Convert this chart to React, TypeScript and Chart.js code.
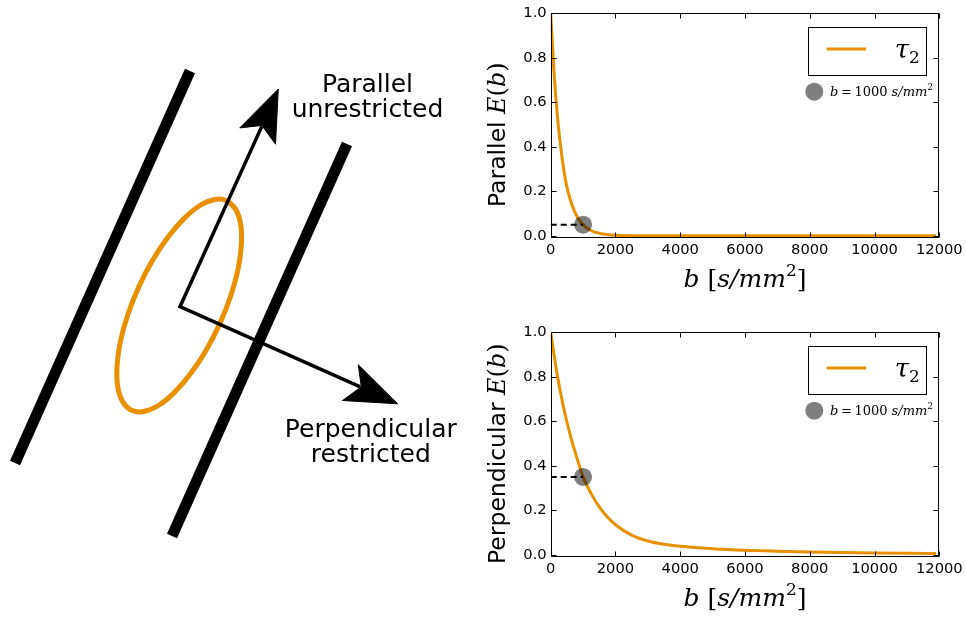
import React, { useEffect, useRef } from 'react';
import { Chart, registerables } from 'chart.js';

Chart.register(...registerables);

// ---------- data: E(b) curves ----------
const xTicks = [0, 2000, 4000, 6000, 8000, 10000, 12000];
const yTicks = [0, 0.2, 0.4, 0.6, 0.8, 1.0];

const bParallel = [0, 100, 200, 300, 400, 500, 600, 700, 800, 900, 1000, 1200, 1400, 1600, 1800, 2000, 2500, 3000, 4000, 6000, 8000, 10000, 11900];
const eParallel = [1.0, 0.74, 0.55, 0.41, 0.3, 0.22, 0.165, 0.122, 0.09, 0.067, 0.05, 0.027, 0.015, 0.008, 0.0045, 0.0025, 0.0006, 0.0001, 0, 0, 0, 0, 0];

const bPerp = [0, 200, 400, 600, 800, 1000, 1250, 1500, 1750, 2000, 2500, 3000, 3500, 4000, 5000, 6000, 7000, 8000, 9000, 10000, 11000, 11900];
const ePerp = [1.0, 0.81, 0.66, 0.54, 0.44, 0.35, 0.275, 0.215, 0.17, 0.135, 0.088, 0.062, 0.047, 0.038, 0.027, 0.02, 0.016, 0.013, 0.0105, 0.0085, 0.007, 0.006];

const markerB = 1000;
const markerParallel = 0.05;
const markerPerp = 0.35;

// ---------- data: diagram (pixel-like coordinates of the sketch) ----------
const wallLeft = [[190, 71], [15, 463]];
const wallRight = [[347, 144], [172, 536]];
const ellipse = [
  [226.7, 200.7], [235.6, 209.1], [240.6, 223.9], [241.4, 244.4], [238.1, 269.0], [230.6, 296.2],
  [219.7, 323.9], [206.0, 350.4], [190.5, 373.8], [174.2, 392.6], [158.4, 405.5], [143.8, 411.5],
  [131.7, 410.3], [122.8, 401.9], [117.8, 387.1], [117.0, 366.6], [120.3, 342.0], [127.8, 314.8],
  [138.7, 287.1], [152.4, 260.6], [167.9, 237.2], [184.2, 218.4], [200.0, 205.5], [214.6, 199.5],
  [226.7, 200.7], [235.6, 209.1],
];
const arrowShaft = [[261.8, 126.4], [180, 306.7], [360.3, 386.8]];
const arrowHeadParallel = [[278.3, 89], [239.8, 127.9], [261.8, 125.4], [275.5, 144.2], [278.3, 89]];
const arrowHeadPerp = [[397.7, 403.8], [358.3, 364.8], [361.3, 386.8], [342.5, 400.5], [397.7, 403.8]];
const diagramTexts = ['Parallel', 'unrestricted', 'Perpendicular', 'restricted'];
const diagramTextAnchors = [[367.5, 91.7], [367.5, 116.7], [370.8, 436.7], [370.8, 461.7]];

// ---------- styles ----------
const ORANGE = 'rgb(232,144,0)';
const MARKER = 'rgba(0,0,0,0.5)';
const SANS = '"DejaVu Sans", sans-serif';
const SERIF = '"DejaVu Serif", serif';

type Seg = { t: string; f: string; dy?: number };

function drawRich(ctx: CanvasRenderingContext2D, segs: Seg[], x: number, y: number, align: 'left' | 'center') {
  let w = 0;
  for (const s of segs) {
    ctx.font = s.f;
    w += ctx.measureText(s.t).width;
  }
  let cx = align === 'center' ? x - w / 2 : x;
  ctx.textAlign = 'left';
  ctx.textBaseline = 'alphabetic';
  ctx.fillStyle = '#000';
  for (const s of segs) {
    ctx.font = s.f;
    ctx.fillText(s.t, cx, y + (s.dy || 0));
    cx += ctx.measureText(s.t).width;
  }
}

const xTitle: Seg[] = [
  { t: 'b', f: `italic 25px ${SERIF}` },
  { t: ' [', f: `25px ${SERIF}` },
  { t: 's/mm', f: `italic 25px ${SERIF}` },
  { t: '2', f: `17px ${SERIF}`, dy: -11 },
  { t: ']', f: `25px ${SERIF}` },
];
const yTitle = (word: string): Seg[] => [
  { t: word + ' ', f: `23.5px ${SANS}` },
  { t: 'E', f: `italic 24px ${SERIF}` },
  { t: '(', f: `24px ${SERIF}` },
  { t: 'b', f: `italic 24px ${SERIF}` },
  { t: ')', f: `24px ${SERIF}` },
];
const tauLabel: Seg[] = [
  { t: 'τ', f: `italic 26px ${SERIF}` },
  { t: '2', f: `17px ${SERIF}`, dy: 5 },
];
const markerLabel: Seg[] = [
  { t: 'b', f: `italic 13px ${SERIF}` },
  { t: '\u2009=\u20091000 ', f: `13px ${SERIF}` },
  { t: 's/mm', f: `italic 13px ${SERIF}` },
  { t: '2', f: `9px ${SERIF}`, dy: -6 },
];

function plotConfig(b: number[], e: number[], markerY: number, word: string, padTop: number, xAxisH: number): any {
  const decor = {
    id: 'decor',
    afterDatasetsDraw(chart: any) {
      const ctx: CanvasRenderingContext2D = chart.ctx;
      const ca = chart.chartArea;
      const xs = chart.scales.x;
      const ys = chart.scales.y;
      ctx.save();
      // frame
      ctx.strokeStyle = '#000';
      ctx.lineWidth = 1;
      const L = Math.round(ca.left) + 0.5, R = Math.round(ca.right) - 0.5;
      const T = Math.round(ca.top) + 0.5, B = Math.round(ca.bottom) - 0.5;
      ctx.strokeRect(L, T, R - L, B - T);
      // inward ticks on all sides
      ctx.beginPath();
      for (const v of xTicks) {
        const px = Math.round(xs.getPixelForValue(v)) + 0.5;
        ctx.moveTo(px, B); ctx.lineTo(px, B - 5);
        ctx.moveTo(px, T); ctx.lineTo(px, T + 5);
      }
      for (const v of yTicks) {
        const py = Math.round(ys.getPixelForValue(v)) + 0.5;
        ctx.moveTo(L, py); ctx.lineTo(L + 5, py);
        ctx.moveTo(R, py); ctx.lineTo(R - 5, py);
      }
      ctx.stroke();
      // legend
      const bx = ca.right - 131.6, by = ca.top + 13.2, bw = 118, bh = 47.5;
      ctx.fillStyle = '#fff';
      ctx.fillRect(bx, by, bw, bh);
      ctx.strokeStyle = '#000';
      ctx.lineWidth = 1;
      ctx.strokeRect(Math.round(bx) + 0.5, Math.round(by) + 0.5, Math.round(bw), Math.round(bh));
      ctx.strokeStyle = ORANGE;
      ctx.lineWidth = 3;
      ctx.beginPath();
      ctx.moveTo(bx + 19, by + 22.5);
      ctx.lineTo(bx + 58.3, by + 22.5);
      ctx.stroke();
      drawRich(ctx, tauLabel, bx + 87, by + 31, 'left');
      ctx.fillStyle = MARKER;
      ctx.beginPath();
      ctx.arc(bx + 6.6, by + bh + 17.7, 9, 0, Math.PI * 2);
      ctx.fill();
      drawRich(ctx, markerLabel, bx + 22.3, by + bh + 22.2, 'left');
      // axis titles
      drawRich(ctx, xTitle, (ca.left + ca.right) / 2, ca.bottom + 49, 'center');
      ctx.translate(ca.left - 46, (ca.top + ca.bottom) / 2 + 9);
      ctx.rotate(-Math.PI / 2);
      drawRich(ctx, yTitle(word), 0, 0, 'center');
      ctx.restore();
    },
  };
  return {
    type: 'scatter',
    data: {
      datasets: [
        {
          label: 'b = 1000 s/mm2',
          data: [{ x: markerB, y: markerY }],
          pointRadius: 9,
          pointBackgroundColor: MARKER,
          pointBorderWidth: 0,
          pointBorderColor: 'rgba(0,0,0,0)',
          order: 0,
        },
        {
          label: 'dash',
          data: [{ x: 0, y: markerY }, { x: markerB, y: markerY }],
          showLine: true,
          borderColor: '#000',
          borderWidth: 2,
          borderDash: [6, 4],
          pointRadius: 0,
          order: 1,
        },
        {
          label: 'τ2',
          data: b.map((x, i) => ({ x, y: e[i] })),
          showLine: true,
          borderColor: ORANGE,
          borderWidth: 3,
          pointRadius: 0,
          cubicInterpolationMode: 'monotone',
          order: 2,
        },
      ],
    },
    options: {
      responsive: false,
      animation: false,
      devicePixelRatio: 1,
      events: [],
      layout: { padding: { left: 0, right: 26.7, top: padTop, bottom: 0 } },
      plugins: { legend: { display: false }, tooltip: { enabled: false } },
      scales: {
        x: {
          type: 'linear',
          min: 0,
          max: 12000,
          grid: { display: false, drawTicks: false },
          border: { display: false },
          afterBuildTicks: (s: any) => { s.ticks = xTicks.map((v) => ({ value: v })); },
          afterFit: (s: any) => { s.height = xAxisH; },
          ticks: {
            color: '#000',
            font: { family: 'DejaVu Sans', size: 14.7 },
            padding: 3,
            maxRotation: 0,
            autoSkip: false,
            callback: (v: any) => String(v),
          },
        },
        y: {
          type: 'linear',
          min: -0.01,
          max: 1.0,
          grid: { display: false, drawTicks: false },
          border: { display: false },
          afterBuildTicks: (s: any) => { s.ticks = yTicks.map((v) => ({ value: v })); },
          afterFit: (s: any) => { s.width = 70.7; },
          ticks: {
            color: '#000',
            font: { family: 'DejaVu Sans', size: 14.7 },
            padding: 4,
            autoSkip: false,
            callback: (v: any) => Number(v).toFixed(1),
          },
        },
      },
    },
    plugins: [decor],
  };
}

function diagramConfig(): any {
  const pts = (a: number[][]) => a.map(([x, y]) => ({ x, y }));
  const labels = {
    id: 'labels',
    afterDatasetsDraw(chart: any) {
      const ctx: CanvasRenderingContext2D = chart.ctx;
      const xs = chart.scales.x, ys = chart.scales.y;
      ctx.save();
      ctx.font = `25px ${SANS}`;
      ctx.fillStyle = '#000';
      ctx.textAlign = 'center';
      ctx.textBaseline = 'alphabetic';
      diagramTexts.forEach((t, i) => {
        const [x, y] = diagramTextAnchors[i];
        ctx.fillText(t, xs.getPixelForValue(x), ys.getPixelForValue(y));
      });
      ctx.restore();
    },
  };
  const line = (d: number[][], color: string, width: number, order: number, extra: any = {}) => ({
    data: pts(d),
    showLine: true,
    borderColor: color,
    borderWidth: width,
    pointRadius: 0,
    order,
    ...extra,
  });
  return {
    type: 'scatter',
    data: {
      datasets: [
        line(arrowShaft, '#000', 3.5, 0, { borderJoinStyle: 'miter', borderCapStyle: 'butt' }),
        line(arrowHeadParallel, '#000', 1, 0, { fill: 'shape', backgroundColor: '#000', borderJoinStyle: 'miter' }),
        line(arrowHeadPerp, '#000', 1, 0, { fill: 'shape', backgroundColor: '#000', borderJoinStyle: 'miter' }),
        line(ellipse, ORANGE, 5, 1, { tension: 0.4 }),
        line(wallLeft, '#000', 11, 2, { borderCapStyle: 'butt' }),
        line(wallRight, '#000', 11, 2, { borderCapStyle: 'butt' }),
      ],
    },
    options: {
      responsive: false,
      animation: false,
      devicePixelRatio: 1,
      events: [],
      layout: { padding: 0 },
      plugins: { legend: { display: false }, tooltip: { enabled: false } },
      scales: {
        x: { type: 'linear', display: false, min: 0, max: 480 },
        y: { type: 'linear', display: false, min: 0, max: 619, reverse: true },
      },
    },
    plugins: [labels],
  };
}

export default function App() {
  const diagRef = useRef<HTMLCanvasElement>(null);
  const topRef = useRef<HTMLCanvasElement>(null);
  const botRef = useRef<HTMLCanvasElement>(null);

  useEffect(() => {
    const charts: Chart[] = [];
    if (diagRef.current) charts.push(new Chart(diagRef.current, diagramConfig()));
    if (topRef.current) charts.push(new Chart(topRef.current, plotConfig(bParallel, eParallel, markerParallel, 'Parallel', 13.3, 71)));
    if (botRef.current) charts.push(new Chart(botRef.current, plotConfig(bPerp, ePerp, markerPerp, 'Perpendicular', 23.3, 62)));
    return () => charts.forEach((c) => c.destroy());
  }, []);

  return (
    <div style={{ position: 'fixed', left: 0, top: 0, width: 966, height: 619, background: '#fff' }}>
      <canvas ref={diagRef} width={480} height={619} style={{ position: 'absolute', left: 0, top: 0, width: 480, height: 619 }} />
      <canvas ref={topRef} width={486} height={309} style={{ position: 'absolute', left: 480, top: 0, width: 486, height: 309 }} />
      <canvas ref={botRef} width={486} height={310} style={{ position: 'absolute', left: 480, top: 309, width: 486, height: 310 }} />
    </div>
  );
}
